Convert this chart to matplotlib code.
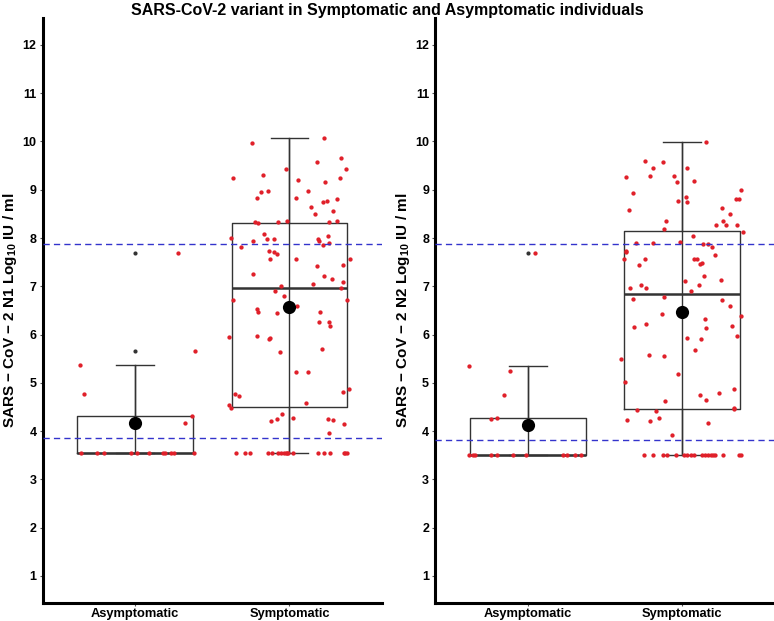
import matplotlib
matplotlib.use("Agg")
import matplotlib.pyplot as plt
from matplotlib import cbook
import numpy as np

plt.rcParams["font.family"] = ["Liberation Sans", "DejaVu Sans"]
plt.rcParams["font.weight"] = "bold"
plt.rcParams["mathtext.fontset"] = "custom"
plt.rcParams["mathtext.rm"] = "Liberation Sans:bold"
plt.rcParams["mathtext.it"] = "Liberation Sans:bold"
plt.rcParams["mathtext.bf"] = "Liberation Sans:bold"

TITLE = "SARS-CoV-2 variant in Symptomatic and Asymptomatic individuals"
groups = ["Asymptomatic", "Symptomatic"]
yticks = list(range(1, 13))

# --- N1 (левая панель) ---
n1_asym = [7.69, 5.65, 5.36, 4.76, 4.32, 4.16] + [3.55] * 11
n1_asym_jit = [0.275, 0.39, -0.36, -0.33, 0.37, 0.32,
               -0.35, -0.25, -0.20, -0.03, 0.01, 0.09, 0.18, 0.19, 0.23, 0.25, 0.38]
n1_sym = [10.08, 9.96, 9.58, 9.66, 9.43, 9.43, 9.24, 9.30, 9.21, 9.16,
          9.25, 8.96, 8.98, 8.97, 8.83, 8.83, 8.75, 8.76, 8.80, 8.64,
          8.57, 8.50, 8.34, 8.31, 8.33, 8.36, 8.34, 8.35, 8.01, 8.09,
          8.05, 7.94, 7.97, 7.97, 7.98, 7.94, 7.90, 7.85, 7.82, 7.74,
          7.71, 7.66, 7.56, 7.57, 7.56, 7.43, 7.45, 7.26, 7.22, 7.15,
          7.09, 7.00, 7.04, 6.97, 6.91, 6.80, 6.71, 6.71, 6.60, 6.53,
          6.46, 6.45, 6.46, 6.27, 6.27, 6.17, 5.96, 5.97, 5.90, 5.93,
          5.63, 5.70, 5.23, 5.23, 4.87, 4.81, 4.76, 4.72, 4.55, 4.47,
          4.59, 4.36, 4.25, 4.20, 4.27, 4.25, 4.23, 4.14, 3.96] + [3.55] * 18
n1_sym_jit = [0.226, -0.244, 0.176, 0.337, 0.365, -0.021, -0.363, -0.174, 0.053, 0.231,
              0.330, -0.183, -0.137, 0.120, -0.211, 0.040, 0.218, 0.246, 0.306, 0.140,
              0.285, 0.166, -0.226, -0.207, -0.073, -0.018, 0.254, 0.311, -0.380, -0.166,
              0.252, -0.239, -0.146, -0.101, 0.185, 0.194, 0.254, 0.215, -0.315, -0.135,
              -0.103, -0.079, -0.124, 0.040, 0.393, 0.176, 0.350, -0.235, 0.222, 0.274,
              0.345, -0.055, 0.155, 0.332, -0.092, -0.034, -0.367, 0.371, 0.047, -0.213,
              -0.202, -0.081, 0.200, 0.194, 0.259, 0.263, -0.389, -0.213, -0.135, -0.124,
              -0.060, 0.213, 0.042, 0.120, 0.384, 0.347, -0.356, -0.328, -0.395, -0.376,
              0.107, -0.049, -0.083, -0.118, 0.025, 0.250, 0.280, 0.352, 0.254,
              -0.347, -0.291, -0.259, -0.137, -0.111, -0.077, -0.038, -0.025, -0.008,
              0.025, 0.183, 0.226, 0.261, 0.356, 0.371, -0.057, -0.016, 0.363]
n1_lod = [3.85, 7.87]

# --- N2 (правая панель) ---
n2_asym = [7.69, 5.35, 5.25, 4.75, 4.27, 4.26] + [3.51] * 11
n2_asym_jit = [0.045, -0.383, -0.117, -0.156, -0.197, -0.240,
               -0.383, -0.340, -0.240, -0.201, -0.097, -0.013, 0.229, 0.303, 0.346, -0.355, 0.251]
n2_sym = [9.98, 9.59, 9.58, 9.45, 9.45, 9.26, 9.29, 9.29, 9.17, 9.18,
          9.00, 8.93, 8.86, 8.81, 8.81, 8.77, 8.75, 8.59, 8.62, 8.50,
          8.35, 8.35, 8.28, 8.28, 8.26, 8.19, 8.12, 8.05, 7.92, 7.90,
          7.90, 7.88, 7.88, 7.81, 7.74, 7.72, 7.65, 7.56, 7.57, 7.56,
          7.57, 7.47, 7.48, 7.45, 7.21, 7.14, 7.11, 7.02, 6.97, 6.97,
          7.02, 6.90, 6.77, 6.73, 6.72, 6.59, 6.43, 6.38, 6.32, 6.21,
          6.16, 6.14, 6.17, 5.98, 5.93, 5.91, 5.69, 5.49, 5.58, 5.55,
          5.19, 5.01, 4.88, 4.75, 4.64, 4.79, 4.47, 4.45, 4.62, 4.43,
          4.42, 4.23, 4.20, 4.28, 4.16, 3.93] + [3.51] * 18
n2_sym_jit = [0.154, -0.240, -0.123, -0.186, 0.032, -0.366, -0.206, -0.054, -0.032, 0.078,
              0.383, -0.318, 0.026, 0.351, 0.372, -0.024, 0.035, -0.346, 0.260, 0.314,
              -0.104, 0.264, 0.286, 0.357, 0.221, -0.115, 0.394, 0.074, -0.013, -0.301,
              -0.186, 0.136, 0.167, 0.195, -0.366, -0.361, 0.216, -0.377, -0.240, 0.078,
              0.097, 0.115, 0.132, -0.277, 0.139, 0.251, 0.017, -0.264, -0.236, -0.335,
              0.110, 0.056, -0.117, -0.316, 0.262, 0.310, -0.128, 0.381, 0.149, -0.232,
              -0.314, 0.152, 0.325, 0.359, 0.030, 0.123, 0.087, -0.396, -0.214, -0.117,
              -0.028, -0.370, 0.338, 0.117, 0.156, 0.242, 0.338, 0.334, -0.110, -0.294,
              -0.171, -0.357, -0.208, -0.149, 0.169, -0.065,
              -0.249, -0.190, -0.121, -0.100, -0.037, 0.013, 0.030, 0.056, 0.078,
              0.128, 0.147, 0.167, 0.186, 0.201, 0.216, 0.268, 0.372, 0.383]
n2_lod = [3.81, 7.88]

panels = [
    (n1_asym, n1_asym_jit, n1_sym, n1_sym_jit, n1_lod, "N1"),
    (n2_asym, n2_asym_jit, n2_sym, n2_sym_jit, n2_lod, "N2"),
]

W, H = 774, 621
fig = plt.figure(figsize=(W / 100, H / 100), dpi=100)
fig.text(0.5, 1 - 10 / H, TITLE, ha="center", va="center", fontsize=11.5, fontweight="bold")

lefts = [42.7, 435.3]
for (asym, asym_j, sym, sym_j, lod, gene), left in zip(panels, lefts):
    ax = fig.add_axes([left / W, (H - 602.5) / H, 339.3 / W, (602.5 - 18.4) / H])
    data = [np.array(asym), np.array(sym)]
    jits = [np.array(asym_j), np.array(sym_j)]
    stats = cbook.boxplot_stats(data, whis=1.5)

    # "усы" через весь ящик, как у ggplot errorbar
    for i, st in enumerate(stats):
        ax.vlines(i + 1, st["whislo"], st["whishi"], color="#333333", lw=1.0, zorder=1)
    ax.bxp(stats, positions=[1, 2], widths=0.75, capwidths=0.245,
           showfliers=True, patch_artist=False,
           boxprops=dict(color="#333333", lw=1.0),
           whiskerprops=dict(color="#333333", lw=1.0),
           capprops=dict(color="#333333", lw=1.0),
           medianprops=dict(color="#333333", lw=1.8),
           flierprops=dict(marker="o", markersize=3, markerfacecolor="#333333",
                           markeredgecolor="none"),
           zorder=2)

    for i, (d, j) in enumerate(zip(data, jits)):
        ax.plot(i + 1 + j, d, "o", color="#e0202a", markersize=3.1,
                markeredgewidth=0, zorder=3)
        ax.plot(i + 1, d.mean(), "o", color="black", markersize=9.5,
                markeredgewidth=0, zorder=4)

    for y in lod:
        ax.axhline(y, color="#3333cc", lw=1.0, ls=(0, (4.5, 3)), zorder=5)

    ax.set_xlim(0.4, 2.6)
    ax.set_ylim(0.45, 12.55)
    ax.set_xticks([1, 2])
    ax.set_xticklabels(groups)
    ax.set_yticks(yticks)
    ax.set_yticklabels([str(t) for t in yticks])
    ax.tick_params(axis="both", length=2.5, width=0.8, color="#555555",
                   labelcolor="black", pad=2)
    ax.tick_params(axis="x", labelsize=9.3, pad=1.5)
    ax.tick_params(axis="y", labelsize=9)
    for lab in ax.get_xticklabels() + ax.get_yticklabels():
        lab.set_fontweight("bold")
    for s in ["top", "right"]:
        ax.spines[s].set_visible(False)
    for s in ["left", "bottom"]:
        ax.spines[s].set_linewidth(2.2)
        ax.spines[s].set_color("black")
    ax.set_ylabel(rf"SARS $-$ CoV $-$ 2 {gene} Log$_{{10}}$ IU / ml",
                  fontsize=11, fontweight="bold")
    ax.yaxis.set_label_coords((19.5 - 42.7) / 339.3, 0.5)

fig.savefig("out.png", dpi=100)
